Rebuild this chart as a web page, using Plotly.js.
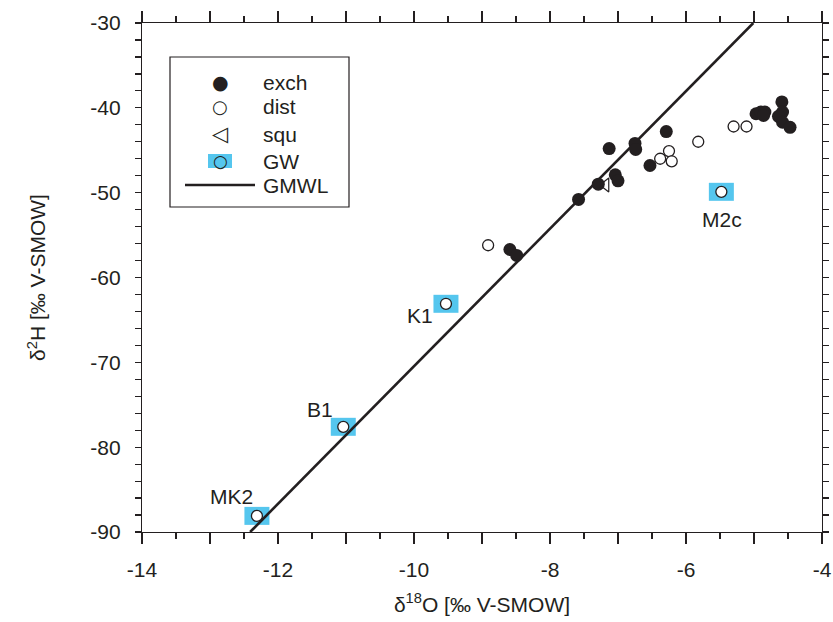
<!DOCTYPE html>
<html><head><meta charset="utf-8">
<script src="https://cdn.plot.ly/plotly-3.0.1.min.js"></script>
<style>html,body{margin:0;padding:0;background:#fff}</style>
</head><body><div id="chart" style="width:833px;height:622px"></div>
<script>
// ---- data ----
const exchX = [-8.59,-8.49,-7.58,-7.29,-7.13,-7.04,-7.00,-6.75,-6.74,-6.53,-6.29,-4.97,-4.90,-4.84,-4.86,-4.59,-4.58,-4.64,-4.58,-4.47];
const exchY = [-56.7,-57.4,-50.8,-49.0,-44.8,-47.9,-48.6,-44.2,-44.9,-46.8,-42.8,-40.7,-40.5,-40.5,-40.9,-39.3,-40.5,-41.0,-41.7,-42.3];
const distX = [-8.91,-6.38,-6.25,-6.21,-5.82,-5.30,-5.11];
const distY = [-56.2,-46.0,-45.1,-46.3,-44.0,-42.2,-42.2];
const squX = [-7.18];
const squY = [-49.1];
const gwX = [-12.31,-11.04,-9.53,-5.48];
const gwY = [-88.1,-77.6,-63.1,-49.9];
const gwLabels = ['MK2','B1','K1','M2c'];
const gmwlX = [-12.41,-5.01];
const gmwlY = [-90,-30];
const legendNames = ['exch','dist','squ','GW','GMWL'];
const xTickVals = [-14,-13,-12,-11,-10,-9,-8,-7,-6,-5,-4];
const xTickText = ['-14','','-12','','-10','','-8','','-6','','-4'];
const yTickVals = [-90,-80,-70,-60,-50,-40,-30];
const yTickText = ['-90','-80','-70','-60','-50','-40','-30'];

// ---- style / layout ----
const W = 833, H = 622;
const M = {l:142, r:11, t:23, b:90};
const plotW = W - M.l - M.r, plotH = H - M.t - M.b;
const px2x = px => (px - M.l) / plotW;
const py2y = py => (H - M.b - py) / plotH;
const INK = '#231f20';
const CYAN = '#55c6ee';
const FONT = 'Liberation Sans, Arial, Helvetica, sans-serif';
const FS = 21;

const labelShift = [[-25,-19],[-23,-17],[-26,12],[1,28]];

const traces = [
  {x: gmwlX, y: gmwlY, mode:'lines', name: legendNames[4], line:{color:INK, width:2.6}, hoverinfo:'skip'},
  {x: squX, y: squY, mode:'markers', name: legendNames[2], marker:{symbol:'triangle-left-open', size:12, color:INK, line:{width:1.2, color:INK}}},
  {x: distX, y: distY, mode:'markers', name: legendNames[1], marker:{symbol:'circle', size:11, color:'#ffffff', line:{width:1.3, color:INK}}},
  {x: exchX, y: exchY, mode:'markers', name: legendNames[0], marker:{symbol:'circle', size:13, color:INK, line:{width:0}}},
  {x: gwX, y: gwY, mode:'markers', name: legendNames[3], marker:{symbol:'circle', size:11, color:'#ffffff', line:{width:1.3, color:INK}}}
];

const shapes = gwX.map((x,i) => ({
  type:'rect', xref:'x', yref:'y', xsizemode:'pixel', ysizemode:'pixel',
  xanchor:x, yanchor:gwY[i], x0:-12.5, x1:12.5, y0:-9, y1:9,
  fillcolor:CYAN, line:{width:0}, layer:'below'
}));

// manual legend box
const legRows = [82,107,134,161,185];
const symX = 220, txtX = 261;
shapes.push({type:'rect', xref:'paper', yref:'paper', x0:px2x(170), x1:px2x(349), y0:py2y(207), y1:py2y(57),
  fillcolor:'#ffffff', line:{color:INK, width:1.2}, layer:'above'});
shapes.push({type:'rect', xref:'paper', yref:'paper', xsizemode:'pixel', ysizemode:'pixel',
  xanchor:px2x(symX), yanchor:py2y(legRows[3]), x0:-12, x1:12, y0:-7, y1:7,
  fillcolor:CYAN, line:{width:0}, layer:'above'});
shapes.push({type:'line', xref:'paper', yref:'paper', x0:px2x(185), x1:px2x(255), y0:py2y(legRows[4]), y1:py2y(legRows[4]),
  line:{color:INK, width:2.6}, layer:'above'});

const annotations = gwLabels.map((t,i) => ({
  x:gwX[i], y:gwY[i], xref:'x', yref:'y', text:t, showarrow:false,
  xshift:labelShift[i][0], yshift:-labelShift[i][1],
  font:{family:FONT, size:FS, color:INK}
}));
const legGlyphs = ['\u25CF','\u25CB','\u25C1','\u25CB'];
const glyphSize = [19,18,21,17];
legGlyphs.forEach((g,i) => annotations.push({
  xref:'paper', yref:'paper', x:px2x(symX), y:py2y(legRows[i]), text:g, showarrow:false,
  xanchor:'center', yanchor:'middle', font:{family:'DejaVu Sans', size:glyphSize[i], color:INK}
}));
legendNames.forEach((n,i) => annotations.push({
  xref:'paper', yref:'paper', x:px2x(txtX), y:py2y(legRows[i]), text:n, showarrow:false,
  xanchor:'left', yanchor:'middle', font:{family:FONT, size:FS, color:INK}
}));

const axisCommon = {
  showline:true, linecolor:INK, linewidth:1.2, mirror:'ticks', showgrid:false, zeroline:false,
  ticks:'outside', tickcolor:INK, tickwidth:1.2, tickfont:{family:FONT, size:FS, color:INK}
};

const layout = {
  width:W, height:H, margin:M, showlegend:false,
  paper_bgcolor:'#ffffff', plot_bgcolor:'#ffffff',
  font:{family:FONT, size:FS, color:INK},
  xaxis: Object.assign({}, axisCommon, {
    range:[-14,-4], tickmode:'array', tickvals:xTickVals, ticktext:xTickText, ticklen:11,
    ticklabelstandoff:8,
    minor:{tickmode:'linear', tick0:-14, dtick:0.5, ticklen:6, tickwidth:1.2, tickcolor:INK, ticks:'outside', showgrid:false},
    title:{text:'\u03b4<sup>18</sup>O [\u2030 V-SMOW]', font:{family:FONT, size:FS, color:INK}, standoff:16}
  }),
  yaxis: Object.assign({}, axisCommon, {
    range:[-90,-30], tickmode:'array', tickvals:yTickVals, ticktext:yTickText, ticklen:6, ticklabelstandoff:10,
    minor:{tickmode:'linear', tick0:-90, dtick:2, ticklen:6, tickwidth:1.2, tickcolor:INK, ticks:'outside', showgrid:false},
    title:{text:'\u03b4<sup>2</sup>H [\u2030 V-SMOW]', font:{family:FONT, size:FS, color:INK}, standoff:38}
  }),
  shapes: shapes,
  annotations: annotations
};

Plotly.newPlot('chart', traces, layout, {staticPlot:true, displayModeBar:false});
</script></body></html>
